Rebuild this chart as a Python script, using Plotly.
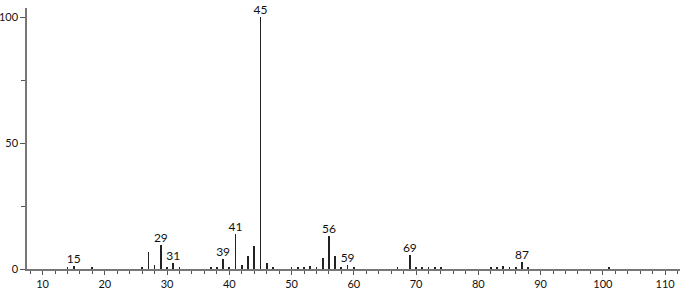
import plotly.graph_objects as go

mz = [14, 15, 18, 26, 27, 28, 29, 30, 31, 32, 37, 38, 39, 40, 41, 42, 43, 44, 45, 46, 47,
      50, 51, 52, 53, 54, 55, 56, 57, 58, 59, 60, 67, 69, 70, 71, 72, 73, 74,
      82, 83, 84, 85, 86, 87, 88, 101]
intensity = [0.6, 1.2, 0.5, 0.9, 6.9, 1.6, 9.5, 0.6, 2.3, 0.5, 0.5, 0.6, 4.0, 0.6, 14.0, 1.6, 5.2, 9.1, 100, 2.3, 0.6,
             0.5, 0.7, 0.8, 1.2, 0.6, 4.2, 13.2, 5.2, 0.9, 1.6, 0.4, 0.4, 5.6, 0.6, 0.9, 0.6, 0.7, 0.4,
             0.5, 0.8, 1.0, 0.7, 0.6, 2.9, 0.6, 0.4]
labels = ["15", "29", "31", "39", "41", "45", "56", "59", "69", "87"]

lab_x = [float(l) for l in labels]
lab_y = [intensity[mz.index(int(l))] for l in labels]

FONT = "Lato"

fig = go.Figure()
fig.add_trace(go.Bar(x=mz, y=intensity, width=0.12,
                     marker=dict(color="#222222", line=dict(width=0))))
fig.add_trace(go.Scatter(x=lab_x, y=lab_y, mode="text", text=labels,
                         textposition="top center", cliponaxis=False,
                         textfont=dict(size=12, color="#111111", family=FONT)))

fig.update_layout(
    width=683, height=291,
    margin=dict(l=27, r=3, t=8, b=22, autoexpand=False),
    plot_bgcolor="white", paper_bgcolor="white",
    showlegend=False, bargap=0,
    font=dict(family=FONT, size=11, color="#111111"),
)
fig.update_xaxes(range=[7.5, 112.4], tickvals=list(range(10, 111, 10)), automargin=False,
                 showgrid=False, zeroline=False, showline=True, linecolor="#777777", linewidth=1.5,
                 ticks="outside", ticklen=4, tickcolor="#555555", tickwidth=1,
                 minor=dict(dtick=2, tick0=0, ticks="outside", ticklen=3, tickcolor="#555555"),
                 tickfont=dict(size=11, family=FONT))
fig.update_yaxes(range=[0, 103.6], tickvals=[0, 50, 100], automargin=False,
                 showgrid=False, zeroline=False, showline=True, linecolor="#777777", linewidth=1.5,
                 ticks="outside", ticklen=5, tickcolor="#555555", tickwidth=1,
                 minor=dict(tickvals=[25, 75], ticks="outside", ticklen=4, tickcolor="#555555"),
                 tickfont=dict(size=11, family=FONT))

fig.write_html("out.html")
